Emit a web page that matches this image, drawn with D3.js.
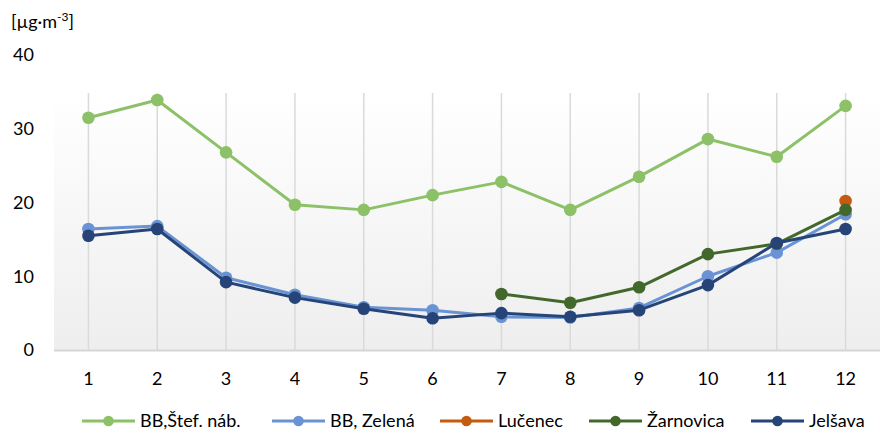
<!DOCTYPE html>
<html><head><meta charset="utf-8">
<script src="https://cdn.jsdelivr.net/npm/d3@7"></script>
<style>body{margin:0;background:#fff;}svg{display:block;font-family:Lato,"Open Sans",sans-serif;}</style>
</head><body><svg id="c" width="880" height="432"></svg>
<script>
const months = [1,2,3,4,5,6,7,8,9,10,11,12];
const yTicks = [0,10,20,30,40];
const seriesNames = ["BB,Štef. náb.","BB, Zelená","Lučenec","Žarnovica","Jelšava"];
const seriesColors = ["#8cc168","#6a93d4","#c55a11","#43682b","#264478"];
const bbStef   = [31.5,33.9,26.8,19.7,19.0,21.0,22.8,19.0,23.5,28.6,26.2,33.1];
const bbZelena = [16.4,16.8,9.8,7.5,5.8,5.4,4.5,4.4,5.7,10.0,13.2,18.4];
const lucenec  = [null,null,null,null,null,null,null,null,null,null,null,20.2];
const zarnovica= [null,null,null,null,null,null,7.6,6.4,8.5,13.0,14.4,19.0];
const jelsava  = [15.5,16.4,9.2,7.1,5.6,4.3,5.0,4.5,5.4,8.8,14.5,16.4];
const seriesValues = [bbStef,bbZelena,lucenec,zarnovica,jelsava];

(function(){
const svg = d3.select("#c");
const pL = 54, pR = 880, pT = 93, pB = 350;
const x = d3.scaleBand().domain(months).range([pL,pR]);
const y = d3.scaleLinear().domain([0,40]).range([pB,55]);
const FONT = "Lato,'Open Sans',sans-serif";

const defs = svg.append("defs");
const g = defs.append("linearGradient").attr("id","bg").attr("x1",0).attr("y1",0).attr("x2",0).attr("y2",1);
g.append("stop").attr("offset","0%").attr("stop-color","#ffffff");
g.append("stop").attr("offset","100%").attr("stop-color","#eeeeee");
svg.append("rect").attr("x",pL).attr("y",pT).attr("width",pR-pL).attr("height",pB-pT).attr("fill","url(#bg)");

svg.append("g").selectAll("line").data(months).join("line")
  .attr("x1",d=>x(d)+x.bandwidth()/2).attr("x2",d=>x(d)+x.bandwidth()/2)
  .attr("y1",pT).attr("y2",pB).attr("stroke","#dadada").attr("stroke-width",1.5);
svg.append("line").attr("x1",pL).attr("x2",pR).attr("y1",pB+0.5).attr("y2",pB+0.5).attr("stroke","#d6d6d6").attr("stroke-width",2);

const yAxis = d3.axisLeft(y).tickValues(yTicks).tickSize(0).tickPadding(0);
const ya = svg.append("g").attr("transform","translate(34,0)").call(yAxis);
ya.select(".domain").remove();
ya.selectAll("text").attr("font-size",18).attr("fill","#000").attr("font-family",FONT);

const xAxis = d3.axisBottom(x).tickSize(0).tickPadding(0);
const xa = svg.append("g").attr("transform",`translate(0,379)`).call(xAxis);
xa.select(".domain").remove();
xa.selectAll("text").attr("font-size",18).attr("fill","#000").attr("font-family",FONT).attr("dy","0.35em");

const u = svg.append("text").attr("x",11).attr("y",28).attr("font-size",18).attr("fill","#000").attr("font-family",FONT);
u.append("tspan").text("[µg·m");
u.append("tspan").attr("dy",-7).attr("font-size",12).text("-3");
u.append("tspan").attr("dy",7).text("]");

const cx = d => x(d)+x.bandwidth()/2;
const line = d3.line().defined(d=>d.v!=null).x(d=>cx(d.m)).y(d=>y(d.v));
seriesValues.forEach((vals,i)=>{
  const pts = months.map((m,j)=>({m,v:vals[j]}));
  svg.append("path").datum(pts).attr("d",line).attr("fill","none")
    .attr("stroke",seriesColors[i]).attr("stroke-width",3).attr("stroke-linejoin","round");
  svg.append("g").selectAll("circle").data(pts.filter(p=>p.v!=null)).join("circle")
    .attr("cx",p=>cx(p.m)).attr("cy",p=>y(p.v)).attr("r",6.3).attr("fill",seriesColors[i]);
});

const legendX = [82,272,440,589,751];
const lg = svg.append("g");
seriesNames.forEach((n,i)=>{
  const lx = legendX[i], ly = 421;
  lg.append("line").attr("x1",lx).attr("x2",lx+53).attr("y1",ly).attr("y2",ly).attr("stroke",seriesColors[i]).attr("stroke-width",3);
  lg.append("circle").attr("cx",lx+26.5).attr("cy",ly).attr("r",5.3).attr("fill",seriesColors[i]);
  lg.append("text").attr("x",lx+58).attr("y",ly).attr("dy","0.35em").attr("font-size",18).attr("fill","#000").attr("font-family",FONT).text(n);
});
})();
</script></body></html>
